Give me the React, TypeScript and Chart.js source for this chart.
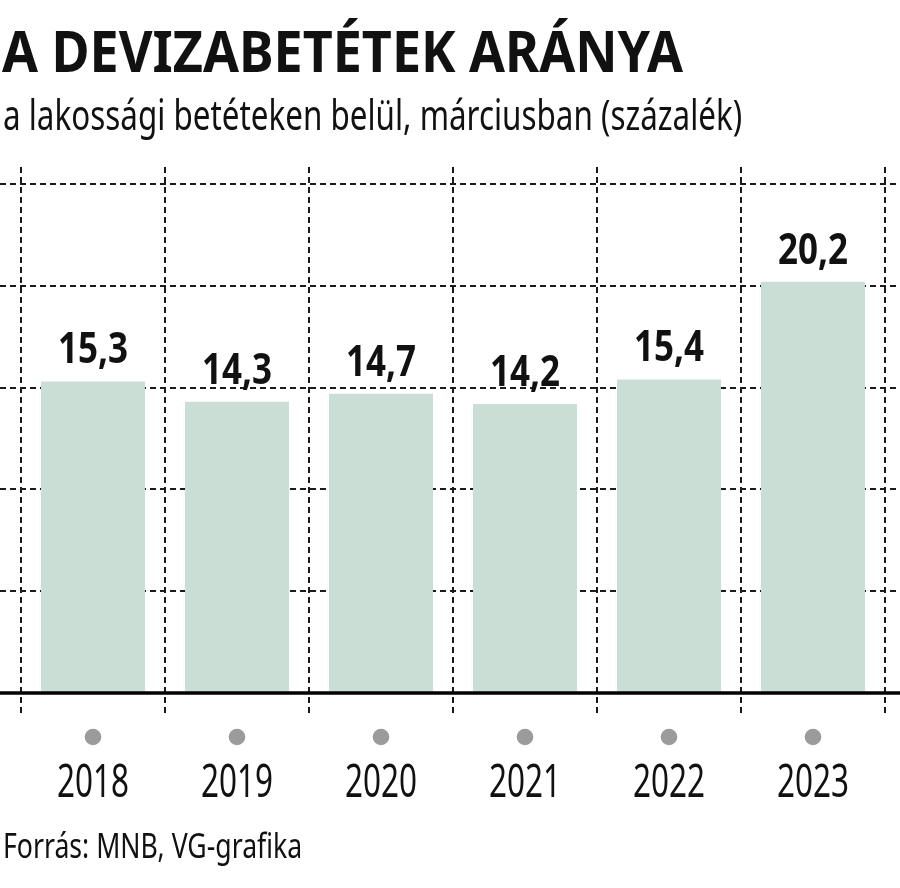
import React, { useEffect, useLayoutEffect, useRef, useState } from 'react';
import { Chart, registerables } from 'chart.js';

Chart.register(...registerables);

// ---- data ----
const years: string[] = ['2018', '2019', '2020', '2021', '2022', '2023'];
const shares: number[] = [15.3, 14.3, 14.7, 14.2, 15.4, 20.2];
const yTicks: number[] = [0, 5, 10, 15, 20, 25];

const TITLE = 'A DEVIZABETÉTEK ARÁNYA';
const SUBTITLE = 'a lakossági betéteken belül, márciusban (százalék)';
const SOURCE = 'Forrás: MNB, VG-grafika';

// ---- styles ----
const FONT = '"Noto Sans", "Open Sans", sans-serif';
const BAR_COLOR = 'rgb(202,222,214)';
const GRID_COLOR = '#1a1a1a';
const DOT_COLOR = '#9b9b9b';
const TEXT_COLOR = '#111111';

const fmt = (v: number) => v.toFixed(1).replace('.', ',');

type FitProps = {
  text: string;
  left: number;
  baseline: number;
  size: number;
  weight: number;
  width: number;
};

function FitText({ text, left, baseline, size, weight, width }: FitProps) {
  const ref = useRef<HTMLSpanElement>(null);
  const [sx, setSx] = useState(1);
  useLayoutEffect(() => {
    if (ref.current) {
      const w = ref.current.offsetWidth;
      if (w > 0) setSx(width / w);
    }
  }, [text, size, width, weight]);
  return (
    <span
      ref={ref}
      style={{
        position: 'absolute',
        left,
        top: baseline - 0.888 * size,
        fontFamily: FONT,
        fontSize: size,
        fontWeight: weight,
        lineHeight: `${size}px`,
        whiteSpace: 'nowrap',
        transform: `scaleX(${sx})`,
        transformOrigin: '0 0',
        color: TEXT_COLOR,
        zIndex: 2,
      }}
    >
      {text}
    </span>
  );
}

const decor = {
  id: 'decor',
  beforeDatasetsDraw(chart: any) {
    const { ctx, chartArea, scales } = chart;
    const y = scales.y;
    const x = scales.x;
    ctx.save();
    ctx.strokeStyle = GRID_COLOR;
    ctx.lineWidth = 2;
    ctx.setLineDash([6, 4]);
    // horizontal dashed grid
    yTicks.forEach((v) => {
      if (v === 0) return;
      const py = Math.round(y.getPixelForValue(v));
      ctx.beginPath();
      ctx.moveTo(0, py);
      ctx.lineTo(897, py);
      ctx.stroke();
    });
    // vertical dashed separators
    for (let i = 0; i <= years.length; i++) {
      const px = Math.round(x.getPixelForValue(i - 0.5));
      ctx.beginPath();
      ctx.moveTo(px, chartArea.top - 17);
      ctx.lineTo(px, chartArea.bottom + 22);
      ctx.stroke();
    }
    ctx.restore();
  },
  afterDatasetsDraw(chart: any) {
    const { ctx, chartArea, scales } = chart;
    const y = scales.y;
    const x = scales.x;
    ctx.save();
    // baseline
    ctx.setLineDash([]);
    ctx.strokeStyle = '#000';
    ctx.lineWidth = 3.5;
    const by = y.getPixelForValue(0);
    ctx.beginPath();
    ctx.moveTo(0, by);
    ctx.lineTo(900, by);
    ctx.stroke();

    // dots
    ctx.fillStyle = DOT_COLOR;
    years.forEach((_, i) => {
      const px = x.getPixelForValue(i);
      ctx.beginPath();
      ctx.arc(px, chartArea.bottom + 44, 8.3, 0, Math.PI * 2);
      ctx.fill();
    });

    // year labels (condensed)
    ctx.fillStyle = TEXT_COLOR;
    ctx.textAlign = 'center';
    ctx.textBaseline = 'alphabetic';
    ctx.font = `400 45px ${FONT}`;
    const sYear = 72 / ctx.measureText('2018').width;
    years.forEach((label, i) => {
      const px = x.getPixelForValue(i);
      ctx.save();
      ctx.translate(px, chartArea.bottom + 104);
      ctx.scale(sYear, 1);
      ctx.fillText(label, 0, 0);
      ctx.restore();
    });

    // value labels (bold condensed)
    ctx.font = `700 43px ${FONT}`;
    const sVal = 70 / ctx.measureText('15,3').width;
    shares.forEach((v, i) => {
      const px = x.getPixelForValue(i);
      const py = y.getPixelForValue(v) - 18;
      ctx.save();
      ctx.translate(px, py);
      ctx.scale(sVal, 1);
      ctx.fillText(fmt(v), 0, 0);
      ctx.restore();
    });
    ctx.restore();
  },
};

export default function App() {
  const canvasRef = useRef<HTMLCanvasElement>(null);

  useEffect(() => {
    if (!canvasRef.current) return;
    const chart = new Chart(canvasRef.current, {
      type: 'bar',
      data: {
        labels: years,
        datasets: [
          {
            data: shares,
            backgroundColor: BAR_COLOR,
            borderWidth: 0,
            categoryPercentage: 1,
            barPercentage: 0.722,
          },
        ],
      },
      options: {
        responsive: false,
        animation: false,
        devicePixelRatio: 1,
        layout: { padding: { left: 21, right: 15, top: 184, bottom: 195 } },
        plugins: {
          legend: { display: false },
          tooltip: { enabled: false },
        },
        scales: {
          x: { display: false },
          y: { display: false, min: 0, max: 25, ticks: { stepSize: 5 } },
        },
      },
      plugins: [decor],
    });
    return () => chart.destroy();
  }, []);

  return (
    <div
      style={{
        position: 'absolute',
        left: 0,
        top: 0,
        width: 900,
        height: 888,
        background: '#ffffff',
        overflow: 'hidden',
      }}
    >
      <canvas
        ref={canvasRef}
        width={900}
        height={888}
        style={{ position: 'absolute', left: 0, top: 0, width: 900, height: 888 }}
      />
      <FitText text={TITLE} left={2} baseline={73} size={57} weight={700} width={681} />
      <FitText text={SUBTITLE} left={3} baseline={130} size={42} weight={400} width={739} />
      <FitText text={SOURCE} left={3} baseline={858} size={35} weight={400} width={299} />
    </div>
  );
}
